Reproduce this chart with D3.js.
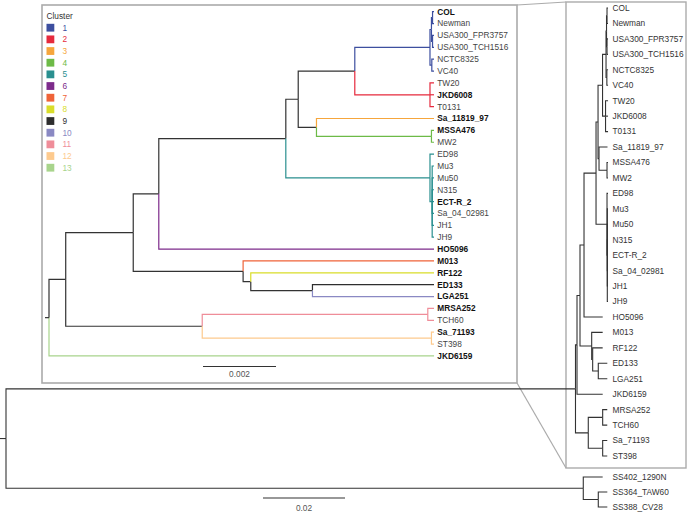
<!DOCTYPE html>
<html><head><meta charset="utf-8">
<script src="https://cdn.jsdelivr.net/npm/d3@7"></script>
<style>
body{margin:0;background:#fff}
svg{display:block}
text{font-family:"Liberation Sans",Arial,Helvetica,sans-serif}
</style>
</head><body>
<svg id="chart" width="687" height="515"></svg>
<script>
// ---------------- DATA ----------------
const clusterIds = ["1","2","3","4","5","6","7","8","9","10","11","12","13"];
const clusterColors = ["#3d4f9f","#e62a3d","#f6a63c","#6dba47","#2a8f8f","#7d2b8b","#ef6338","#d9dd2a","#2e2e2e","#8a89c3","#ef8d99","#fdca8e","#a8d48c"];
const clusterMembers = [
  ["COL","Newman","USA300_FPR3757","USA300_TCH1516","NCTC8325","VC40"],
  ["TW20","JKD6008","T0131"],
  ["Sa_11819_97"],
  ["MSSA476","MW2"],
  ["ED98","Mu3","Mu50","N315","ECT-R_2","Sa_04_02981","JH1","JH9"],
  ["HO5096"],
  ["M013"],
  ["RF122"],
  ["ED133"],
  ["LGA251"],
  ["MRSA252","TCH60"],
  ["Sa_71193","ST398"],
  ["JKD6159"]
];
const boldLeaves = ["COL","JKD6008","Sa_11819_97","MSSA476","ECT-R_2","HO5096","M013","RF122","ED133","LGA251","MRSA252","Sa_71193","JKD6159"];

// Inset tree (S. aureus strains), branch lengths in substitutions/site
const insetBlue = "(((COL:0.00004,Newman:0.00004):0.00003,(USA300_FPR3757:0.00004,USA300_TCH1516:0.00004):0.00003):0.00004,(NCTC8325:0.00006,VC40:0.00006):0.00005)";
const insetRed = "(TW20:0.00011,JKD6008:0.00011,T0131:0.00011)";
const insetN316 = "(Sa_11819_97:0.00322,(MSSA476:0.00007,MW2:0.00007):0.00315)";
const insetTeal = "(ED98:0.00011,(Mu3:0.00005,Mu50:0.00005,N315:0.00005,ECT-R_2:0.00005,Sa_04_02981:0.00005,JH1:0.00005,JH9:0.00005):0.00006)";
const insetN243 = "(M013:0.00523,(RF122:0.00502,(ED133:0.00333,LGA251:0.00333):0.00169):0.00021)";
const insetA2 = "((MRSA252:0.00017,TCH60:0.00017):0.00618,(Sa_71193:0.00007,ST398:0.00007):0.00628)";
const insetNewick = `((((((((${insetBlue}:0.00206,${insetRed}:0.00206):0.00155,${insetN316}:0.00050):0.00034,${insetTeal}:0.00395):0.00348,HO5096:0.00754):0.00070,${insetN243}:0.00301):0.00185,${insetA2}:0.00374):0.000458,JKD6159:0.01055);`;

// Full tree (with outgroup)
const mainBlue = "(((COL:0.00024,Newman:0.00024):0.00012,(USA300_FPR3757:0.00024,USA300_TCH1516:0.00024):0.00012):0.00012,(NCTC8325:0.00029,VC40:0.00029):0.0002)";
const mainRed = "(TW20:0.00061,JKD6008:0.00061,T0131:0.00061)";
const mainN316 = "(Sa_11819_97:0.00207,(MSSA476:0.00024,MW2:0.00024):0.00195)";
const mainTeal = "(ED98:0.00024,(Mu3:0.00017,Mu50:0.00017,N315:0.00017,ECT-R_2:0.00017,Sa_04_02981:0.00017,JH1:0.00017,JH9:0.00017):0.00007)";
const mainN243 = "(M013:0.00268,(RF122:0.00244,(ED133:0.0022,LGA251:0.0022):0.00137):0.00024)";
const mainA2 = "((MRSA252:0.00112,TCH60:0.00112):0.00351,(Sa_71193:0.00112,ST398:0.00112):0.00351)";
const mainOut = "(SS402_1290N:0.00473,(SS364_TAW60:0.0022,SS388_CV28:0.0022):0.00366)";
const mainNewick = `((((((((${mainBlue}:0.00085,${mainRed}:0.00073):0.0011,${mainN316}:0.00024):0.00049,${mainTeal}:0.00268):0.00293,HO5096:0.00456):0.00098,${mainN243}:0.00285):0.00073,JKD6159:0.00627):0.00037,${mainA2}:0.00312):0.1389,${mainOut}:0.1408);`;

const insetScaleValue = 0.002;
const mainScaleValue = 0.02;
const insetScaleLabel = "0.002";
const mainScaleLabel = "0.02";
const legendTitle = "Cluster";

// ---------------- HELPERS ----------------
function parseNewick(s){
  let i = 0;
  function node(){
    const n = {};
    if (s[i] === "("){
      i++; n.children = [];
      while (true){
        n.children.push(node());
        if (s[i] === ","){ i++; continue; }
        break;
      }
      i++; // ')'
    }
    let name = "";
    while (i < s.length && !",():;".includes(s[i])) name += s[i++];
    n.name = name;
    if (s[i] === ":"){
      i++; let num = "";
      while (i < s.length && !",();".includes(s[i])) num += s[i++];
      n.length = +num;
    } else n.length = 0;
    return n;
  }
  return node();
}

const clusterOf = {};
clusterMembers.forEach((arr, k) => arr.forEach(n => clusterOf[n] = k));
const colorScale = d3.scaleOrdinal().domain(d3.range(13)).range(clusterColors);

function layoutTree(newick, x0, xScale, yOf){
  const h = d3.hierarchy(parseNewick(newick));
  h.eachBefore(d => { d.len = d.parent ? d.parent.len + d.data.length : 0; d.xx = x0 + xScale(d.len); });
  h.eachAfter(d => {
    if (!d.children){ d.yy = yOf(d.data.name); d.cl = clusterOf[d.data.name]; }
    else {
      d.yy = (d.children[0].yy + d.children[d.children.length-1].yy) / 2;
      const c = d.children[0].cl;
      d.cl = d.children.every(ch => ch.cl === c && c !== undefined) ? c : undefined;
    }
  });
  return h;
}

const svg = d3.select("#chart");

// ---------------- FRAMES ----------------
const frameColor = "#ababab";
svg.append("rect").attr("x",42).attr("y",5).attr("width",475).attr("height",378)
  .attr("fill","none").attr("stroke",frameColor).attr("stroke-width",1.6);
svg.append("rect").attr("x",566).attr("y",2).attr("width",120).attr("height",466)
  .attr("fill","none").attr("stroke",frameColor).attr("stroke-width",1.4);
svg.append("line").attr("x1",517).attr("y1",5).attr("x2",566).attr("y2",2).attr("stroke",frameColor).attr("stroke-width",1.2);
svg.append("line").attr("x1",517).attr("y1",383).attr("x2",566).attr("y2",468).attr("stroke",frameColor).attr("stroke-width",1.2);

// ---------------- MAIN TREE ----------------
const mainTree0 = d3.hierarchy(parseNewick(mainNewick));
const mainLeaves = mainTree0.leaves().map(d => d.data.name);
const outLeaves = ["SS402_1290N","SS364_TAW60","SS388_CV28"];
const aureusLeaves = mainLeaves.filter(n => !outLeaves.includes(n));
const yA = d3.scalePoint().domain(aureusLeaves).range([8, 456]);
const yO = d3.scalePoint().domain(outLeaves).range([477, 507]);
const xMain = d3.scaleLinear().domain([0, mainScaleValue]).range([0, 82]);
const mainTree = layoutTree(mainNewick, 6, xMain, n => outLeaves.includes(n) ? yO(n) : yA(n));

const gMain = svg.append("g");
gMain.selectAll("path.br").data(mainTree.descendants().filter(d => d.parent))
  .join("path").attr("class","br")
  .attr("d", d => `M${d.parent.xx},${d.parent.yy}V${d.yy}H${d.xx}`)
  .attr("fill","none").attr("stroke","#333").attr("stroke-width",1.1);
gMain.append("line").attr("x1",0).attr("x2",mainTree.xx).attr("y1",mainTree.yy).attr("y2",mainTree.yy)
  .attr("stroke","#333").attr("stroke-width",1.1);
gMain.selectAll("text.lf").data(mainTree.leaves())
  .join("text").attr("class","lf")
  .attr("x",612.5).attr("y", d => d.yy).attr("dy","0.35em")
  .attr("font-size",8.3).attr("fill","#333").text(d => d.data.name);

// main scale bar
gMain.append("line").attr("x1",263).attr("x2",263 + xMain(mainScaleValue)).attr("y1",498).attr("y2",498)
  .attr("stroke","#333").attr("stroke-width",1.1);
gMain.append("text").attr("x",263 + xMain(mainScaleValue)/2).attr("y",508).attr("dy","0.35em")
  .attr("text-anchor","middle").attr("font-size",8.3).attr("fill","#555").text(mainScaleLabel);

// ---------------- INSET TREE ----------------
const insetTree0 = d3.hierarchy(parseNewick(insetNewick));
const insetLeaves = insetTree0.leaves().map(d => d.data.name);
const yI = d3.scalePoint().domain(insetLeaves).range([11.7, 355.9]);
const xInset = d3.scaleLinear().domain([0, insetScaleValue]).range([0, 73]);
const insetTree = layoutTree(insetNewick, 49, xInset, n => yI(n));

const gIn = svg.append("g");
const branches = insetTree.descendants().filter(d => d.parent);
branches.sort((a,b) => (a.cl === undefined ? 0 : 1) - (b.cl === undefined ? 0 : 1));
gIn.selectAll("path.br").data(branches)
  .join("path").attr("class","br")
  .attr("d", d => `M${d.parent.xx},${d.parent.yy}V${d.yy}H${d.xx}`)
  .attr("fill","none")
  .attr("stroke", d => d.cl === undefined ? "#333" : colorScale(d.cl))
  .attr("stroke-width",1.2);
gIn.append("line").attr("x1",45).attr("x2",insetTree.xx).attr("y1",insetTree.yy).attr("y2",insetTree.yy)
  .attr("stroke","#333").attr("stroke-width",1.2);
gIn.selectAll("text.lf").data(insetTree.leaves())
  .join("text").attr("class","lf")
  .attr("x",437.3).attr("y", d => d.yy).attr("dy","0.35em")
  .attr("font-size",8.3)
  .attr("font-weight", d => boldLeaves.includes(d.data.name) ? "bold" : "normal")
  .attr("fill", d => boldLeaves.includes(d.data.name) ? "#111" : "#444")
  .text(d => d.data.name);

// inset scale bar
gIn.append("line").attr("x1",203).attr("x2",203 + xInset(insetScaleValue)).attr("y1",366.5).attr("y2",366.5)
  .attr("stroke","#333").attr("stroke-width",1.1);
gIn.append("text").attr("x",203 + xInset(insetScaleValue)/2).attr("y",374.5).attr("dy","0.35em")
  .attr("text-anchor","middle").attr("font-size",8.3).attr("fill","#555").text(insetScaleLabel);

// ---------------- LEGEND ----------------
const gLeg = svg.append("g");
gLeg.append("text").attr("x",46.5).attr("y",16).attr("dy","0.35em").attr("font-size",8.3).attr("fill","#333").text(legendTitle);
const yLeg = d3.scalePoint().domain(clusterIds).range([27.7, 167.7]);
gLeg.selectAll("rect.sw").data(clusterIds).join("rect").attr("class","sw")
  .attr("x",46.5).attr("y", d => yLeg(d) - 3.9).attr("width",7.8).attr("height",7.8)
  .attr("fill", (d,i) => clusterColors[i]);
gLeg.selectAll("text.num").data(clusterIds).join("text").attr("class","num")
  .attr("x",62.5).attr("y", d => yLeg(d)).attr("dy","0.35em").attr("font-size",8.3)
  .attr("fill", (d,i) => clusterColors[i]).text(d => d);
</script>
</body></html>
